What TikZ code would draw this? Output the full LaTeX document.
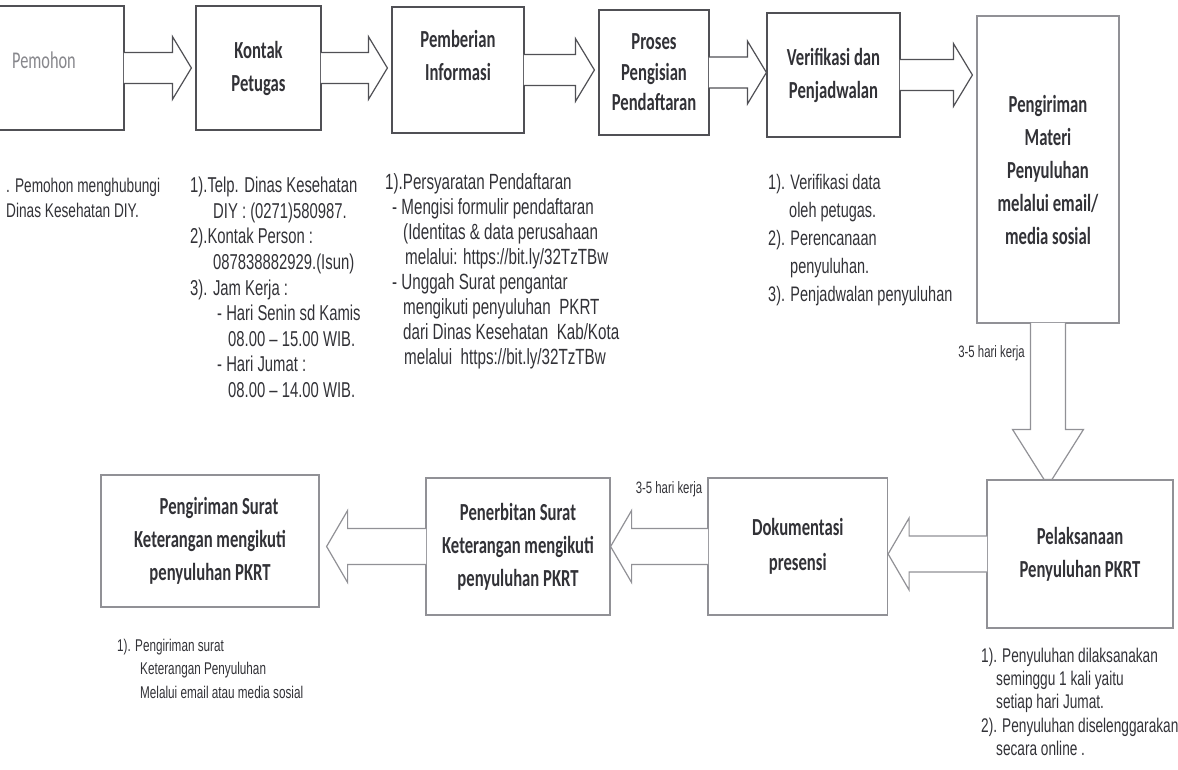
\documentclass[tikz,border=0pt]{standalone}
\usepackage{fontspec}
\usepackage{xcolor}
\usepackage{tikz}
\usetikzlibrary{calc}

\newfontfamily\notefont{Liberation Sans}[FakeStretch=0.69]
\newfontfamily\labelfont{Carlito}[FakeStretch=0.68]

\definecolor{linedark}{RGB}{80,80,85}
\definecolor{linelight}{RGB}{145,145,150}
\definecolor{inkc}{RGB}{50,50,55}
\definecolor{pemohongray}{RGB}{135,135,140}

\begin{document}
\begin{tikzpicture}[x=1pt,y=-1pt]
            \tikzset{Box/.style={%
                    shape=rectangle,%
                    draw=linedark,%
                    line width=1.2pt,%
                    fill=white,%
                    inner sep=0pt,%
                    align=center,%
                    text=inkc,%
                    font=\labelfont\bfseries\fontsize{24.5}{33}\selectfont,%
                },
                LightBox/.style={Box, draw=linelight},
                Note/.style={%
                    anchor=north west,%
                    align=left,%
                    inner sep=0pt,%
                    text=inkc,%
                },
                Days/.style={%
                    inner sep=0pt,%
                    anchor=east,%
                    text=inkc,%
                    font=\notefont\fontsize{16.5}{18}\selectfont,%
                },
                callout shaft/.store in=\CoShaft,
                callout head/.store in=\CoHead,
                callout len/.store in=\CoLen,
                callout gap/.store in=\CoGap,
                RightCallout/.style={%
                    draw=linedark, line width=1.2pt, fill=white,%
                    callout shaft=15.5pt, callout head=31.5pt,%
                    callout len=19pt, callout gap=4pt,%
                    to path={let \p1=(\tikztostart.east), \p2=(\tikztotarget.west) in
                        (\x1-0.7pt,\y1+\CoShaft) -- (\x2-\CoGap-\CoLen,\y1+\CoShaft)
                        -- (\x2-\CoGap-\CoLen,\y1+\CoHead) -- (\x2-\CoGap,\y1)
                        -- (\x2-\CoGap-\CoLen,\y1-\CoHead) -- (\x2-\CoGap-\CoLen,\y1-\CoShaft)
                        -- (\x1-0.7pt,\y1-\CoShaft)},%
                },
                LeftCallout/.style={%
                    draw=linelight, line width=1.2pt, fill=white,%
                    callout shaft=18pt, callout head=36pt,%
                    callout len=21pt, callout gap=0pt,%
                    to path={let \p1=(\tikztostart.west), \p2=(\tikztotarget.east) in
                        (\x1+0.7pt,\y1+\CoShaft) -- (\x2+\CoGap+\CoLen,\y1+\CoShaft)
                        -- (\x2+\CoGap+\CoLen,\y1+\CoHead) -- (\x2+\CoGap,\y1)
                        -- (\x2+\CoGap+\CoLen,\y1-\CoHead) -- (\x2+\CoGap+\CoLen,\y1-\CoShaft)
                        -- (\x1+0.7pt,\y1-\CoShaft)},%
                },
                DownCallout/.style={%
                    draw=linelight, line width=1.2pt, fill=white,%
                    callout shaft=17.5pt, callout head=35.5pt, callout len=50pt,%
                    to path={let \p1=(\tikztostart.south), \p2=(\tikztotarget.north) in
                        (\x1-\CoShaft,\y1+0.7pt) -- (\x1-\CoShaft,\y2+\CoLen)
                        -- (\x1-\CoHead,\y2+\CoLen) -- (\x1-4pt,\y2) -- (\x1+4pt,\y2)
                        -- (\x1+\CoHead,\y2+\CoLen) -- (\x1+\CoShaft,\y2+\CoLen)
                        -- (\x1+\CoShaft,\y1+0.7pt)},%
                }}

                \useasboundingbox (0,0) rectangle (1178,770);

                \node[Box, minimum width=129pt, minimum height=124pt,
                    label={[xshift=-15.5pt, yshift=8pt, text=pemohongray,
                    font=\labelfont\fontsize{24}{26}\selectfont]center:Pemohon}] (pemohon) at (59.5,68) {};
                \node[Box, minimum width=125pt, minimum height=124pt] (kontak) at (258.5,68) {Kontak\\Petugas};
                \node[Box, minimum width=132pt, minimum height=126pt] (info) at (458,70) {Pemberian\\Informasi\\[-4pt]\mbox{}};
                \node[Box, minimum width=110pt, minimum height=125pt, font=\labelfont\bfseries\fontsize{24.5}{30.5}\selectfont] (isi) at (654,72.5) {Proses\\Pengisian\\Pendaftaran};
                \node[Box, minimum width=133pt, minimum height=124pt] (verif) at (833.5,75) {Verifikasi dan\\Penjadwalan};
                \node[LightBox, minimum width=142pt, minimum height=307pt] (materi) at (1048,169.5) {Pengiriman\\Materi\\Penyuluhan\\melalui email/\\media sosial};

                \node[LightBox, minimum width=186pt, minimum height=148pt] (laksana) at (1080,554) {Pelaksanaan\\Penyuluhan PKRT};
                \node[LightBox, minimum width=179.5pt, minimum height=137pt, font=\labelfont\bfseries\fontsize{24.5}{35}\selectfont] (dokum) at (797.75,546.5) {Dokumentasi\\presensi};
                \node[LightBox, minimum width=184pt, minimum height=137pt] (terbit) at (518,546.5) {Penerbitan Surat\\Keterangan mengikuti\\penyuluhan PKRT};
                \node[LightBox, minimum width=218pt, minimum height=132pt] (kirim) at (210,541) {\hspace*{18pt}Pengiriman Surat\\Keterangan mengikuti\\penyuluhan PKRT};

                \path (pemohon) edge[RightCallout] (kontak);
                \path (kontak) edge[RightCallout] (info);
                \path (info) edge[RightCallout] (isi);
                \path (isi) edge[RightCallout, callout gap=0pt] (verif);
                \path (verif) edge[RightCallout] (materi);
                \path (materi) edge[DownCallout] (laksana);
                \path (laksana) edge[LeftCallout] (dokum);
                \path (dokum) edge[LeftCallout] (terbit);
                \path (terbit) edge[LeftCallout, callout gap=7pt] (kirim);

                \node[Days] (days1) at ($(materi.south)+(-23,30)$) {3-5 hari kerja};
                \node[Days] (days2) at ($(dokum.north west)+(-5,12)$) {3-5 hari kerja};

                \node[Note, font=\notefont\fontsize{19.8}{25.6}\selectfont] (pemohonnote) at (6,177.7)
                    {. Pemohon menghubungi\\Dinas Kesehatan DIY.};
                \node[Note, font=\notefont\fontsize{21.5}{25.6}\selectfont] (kontaknote) at (190,177)
                    {1).Telp. Dinas Kesehatan\\
                    \hspace*{23pt}DIY : (0271)580987.\\
                    2).Kontak Person :\\
                    \hspace*{23pt}087838882929.(Isun)\\
                    3). Jam Kerja :\\
                    \hspace*{27pt}- Hari Senin sd Kamis\\
                    \hspace*{38pt}08.00 – 15.00 WIB.\\
                    \hspace*{27pt}- Hari Jumat :\\
                    \hspace*{38pt}08.00 – 14.00 WIB.};
                \node[Note, font=\notefont\fontsize{22}{25.1}\selectfont] (infonote) at (385,172.9)
                    {1).Persyaratan Pendaftaran\\
                    \hspace*{7pt}- Mengisi formulir pendaftaran\\
                    \hspace*{18pt}(Identitas \& data perusahaan\\
                    \hspace*{20pt}melalui: https://bit.ly/32TzTBw\\
                    \hspace*{7pt}- Unggah Surat pengantar\\
                    \hspace*{18pt}mengikuti penyuluhan\ \ PKRT\\
                    \hspace*{18pt}dari Dinas Kesehatan\ \ Kab/Kota\\
                    \hspace*{19pt}melalui\ \ https://bit.ly/32TzTBw};
                \node[Note, font=\notefont\fontsize{21}{28}\selectfont] (verifnote) at (768,174.2)
                    {1). Verifikasi data\\
                    \hspace*{21pt}oleh petugas.\\
                    2). Perencanaan\\
                    \hspace*{22pt}penyuluhan.\\
                    3). Penjadwalan penyuluhan};
                \node[Note, font=\notefont\fontsize{19.8}{23.3}\selectfont] (laksananote) at (981,647.7)
                    {1). Penyuluhan dilaksanakan\\
                    \hspace*{15pt}seminggu 1 kali yaitu\\
                    \hspace*{15pt}setiap hari Jumat.\\
                    2). Penyuluhan diselenggarakan\\
                    \hspace*{15pt}secara online .};
                \node[Note, font=\notefont\fontsize{17}{23.5}\selectfont] (kirimnote) at (117,638.7)
                    {1). Pengiriman surat\\
                    \hspace*{23pt}Keterangan Penyuluhan\\
                    \hspace*{23pt}Melalui email atau media sosial};
        \end{tikzpicture}
\end{document}
